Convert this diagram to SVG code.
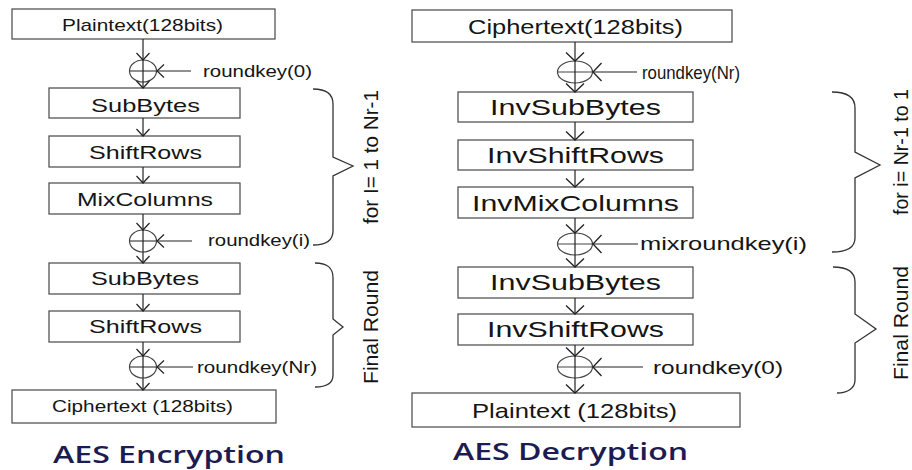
<svg xmlns="http://www.w3.org/2000/svg" width="912" height="470" viewBox="0 0 912 470">
<defs>
<marker id="aL" markerUnits="userSpaceOnUse" markerWidth="20" markerHeight="20" refX="8" refY="8" orient="auto" overflow="visible">
<path d="M1,1.5 L8,8 L1,14.5" fill="none" stroke="#222" stroke-width="1.2"/>
</marker>
<marker id="aR" markerUnits="userSpaceOnUse" markerWidth="24" markerHeight="24" refX="9" refY="10" orient="auto" overflow="visible">
<path d="M0.5,1 L9,10 L0.5,19" fill="none" stroke="#222" stroke-width="1.3"/>
</marker>
<style>
.box{fill:#fff;stroke:#555;stroke-width:1.3}
.xor{fill:none;stroke:#444;stroke-width:1.2}
.ln{fill:none;stroke:#222;stroke-width:1.2}
.br{fill:none;stroke:#333;stroke-width:1.3}
.t{font-family:"Liberation Sans",Arial,sans-serif;fill:#151515}
.title{font-family:"Open Sans","DejaVu Sans",sans-serif;fill:#1c1c52;font-weight:600}
</style>
</defs>
<rect width="912" height="470" fill="#fff"/>

<!-- Encryption -->
<g id="enc-plaintext"><rect class="box" x="12" y="9" width="263" height="30"/><text class="t" x="62" y="31" font-size="17" textLength="161" lengthAdjust="spacingAndGlyphs">Plaintext(128bits)</text></g>
<g id="enc-xor0"><ellipse class="xor" cx="143" cy="71" rx="13.5" ry="11"/><line class="xor" x1="129.5" y1="71" x2="156.5" y2="71"/><text class="t" x="203" y="77" font-size="17" textLength="109" lengthAdjust="spacingAndGlyphs">roundkey(0)</text></g>
<g id="enc-subbytes1"><rect class="box" x="49" y="88" width="191" height="30"/><text class="t" x="91" y="112" font-size="19" textLength="109" lengthAdjust="spacingAndGlyphs">SubBytes</text></g>
<g id="enc-shiftrows1"><rect class="box" x="49" y="136" width="191" height="31"/><text class="t" x="89" y="159" font-size="19" textLength="113" lengthAdjust="spacingAndGlyphs">ShiftRows</text></g>
<g id="enc-mixcolumns"><rect class="box" x="49" y="183" width="191" height="31"/><text class="t" x="77" y="206" font-size="19" textLength="136" lengthAdjust="spacingAndGlyphs">MixColumns</text></g>
<g id="enc-xori"><ellipse class="xor" cx="143" cy="241" rx="13.5" ry="11"/><line class="xor" x1="129.5" y1="241" x2="156.5" y2="241"/><text class="t" x="208" y="246" font-size="17" textLength="102" lengthAdjust="spacingAndGlyphs">roundkey(i)</text></g>
<g id="enc-subbytes2"><rect class="box" x="49" y="263" width="191" height="31"/><text class="t" x="91" y="285" font-size="19" textLength="108" lengthAdjust="spacingAndGlyphs">SubBytes</text></g>
<g id="enc-shiftrows2"><rect class="box" x="49" y="311" width="191" height="31"/><text class="t" x="89" y="333" font-size="19" textLength="113" lengthAdjust="spacingAndGlyphs">ShiftRows</text></g>
<g id="enc-xornr"><ellipse class="xor" cx="143" cy="367" rx="13.5" ry="11"/><line class="xor" x1="129.5" y1="367" x2="156.5" y2="367"/><text class="t" x="197" y="373" font-size="17" textLength="120" lengthAdjust="spacingAndGlyphs">roundkey(Nr)</text></g>
<g id="enc-ciphertext"><rect class="box" x="12" y="390" width="264" height="33"/><text class="t" x="52" y="412" font-size="17" textLength="181" lengthAdjust="spacingAndGlyphs">Ciphertext (128bits)</text></g>
<g id="enc-brace-loop"><path class="br" d="M313,89 C326,89 333,94 333,104 L333,157 L353,166 L333,176 L333,231 C333,240 326,245 313,245"/><text class="t" transform="translate(378,157) rotate(-90)" text-anchor="middle" font-size="20" textLength="134" lengthAdjust="spacingAndGlyphs">for I= 1 to Nr-1</text></g>
<g id="enc-brace-final"><path class="br" d="M315,263 C328,263 333,268 333,278 L333,319 L343,327 L333,335 L333,375 C333,383 327,387 315,387"/><text class="t" transform="translate(378,327) rotate(-90)" text-anchor="middle" font-size="20" textLength="114" lengthAdjust="spacingAndGlyphs">Final Round</text></g>
<g id="enc-title"><text class="title" x="53" y="463" font-size="23" textLength="232" lengthAdjust="spacingAndGlyphs">AES Encryption</text></g>

<!-- Decryption -->
<g id="dec-ciphertext"><rect class="box" x="412" y="10" width="320" height="32"/><text class="t" x="468" y="34" font-size="21" textLength="215" lengthAdjust="spacingAndGlyphs">Ciphertext(128bits)</text></g>
<g id="dec-xornr"><ellipse class="xor" cx="575" cy="72" rx="17.5" ry="11"/><line class="xor" x1="557.5" y1="72" x2="592.5" y2="72"/><text class="t" x="642" y="79" font-size="19" textLength="98" lengthAdjust="spacingAndGlyphs">roundkey(Nr)</text></g>
<g id="dec-invsubbytes1"><rect class="box" x="458" y="92" width="235" height="30"/><text class="t" x="490" y="115" font-size="22" textLength="171" lengthAdjust="spacingAndGlyphs">InvSubBytes</text></g>
<g id="dec-invshiftrows1"><rect class="box" x="458" y="140" width="235" height="30"/><text class="t" x="487" y="163" font-size="22" textLength="177" lengthAdjust="spacingAndGlyphs">InvShiftRows</text></g>
<g id="dec-invmixcolumns"><rect class="box" x="458" y="187" width="235" height="31"/><text class="t" x="472" y="211" font-size="22" textLength="207" lengthAdjust="spacingAndGlyphs">InvMixColumns</text></g>
<g id="dec-xori"><ellipse class="xor" cx="575" cy="244" rx="17.5" ry="11"/><line class="xor" x1="557.5" y1="244" x2="592.5" y2="244"/><text class="t" x="640" y="250" font-size="19" textLength="167" lengthAdjust="spacingAndGlyphs">mixroundkey(i)</text></g>
<g id="dec-invsubbytes2"><rect class="box" x="458" y="267" width="235" height="31"/><text class="t" x="490" y="290" font-size="22" textLength="171" lengthAdjust="spacingAndGlyphs">InvSubBytes</text></g>
<g id="dec-invshiftrows2"><rect class="box" x="458" y="314" width="235" height="31"/><text class="t" x="487" y="337" font-size="22" textLength="177" lengthAdjust="spacingAndGlyphs">InvShiftRows</text></g>
<g id="dec-xor0"><ellipse class="xor" cx="575" cy="367" rx="17.5" ry="11"/><line class="xor" x1="557.5" y1="367" x2="592.5" y2="367"/><text class="t" x="653" y="374" font-size="19" textLength="130" lengthAdjust="spacingAndGlyphs">roundkey(0)</text></g>
<g id="dec-plaintext"><rect class="box" x="412" y="393" width="328" height="34"/><text class="t" x="472" y="418" font-size="21" textLength="205" lengthAdjust="spacingAndGlyphs">Plaintext (128bits)</text></g>
<g id="dec-brace-loop"><path class="br" d="M832,92 C846,92 855,97 855,108 L855,152 L880,165 L855,178 L855,238 C855,247 847,252 832,252"/><text class="t" transform="translate(908,152) rotate(-90)" text-anchor="middle" font-size="20" textLength="126" lengthAdjust="spacingAndGlyphs">for i= Nr-1 to 1</text></g>
<g id="dec-brace-final"><path class="br" d="M833,267 C847,267 855,272 855,282 L855,314 L876,329 L855,343 L855,380 C855,388 848,393 837,393"/><text class="t" transform="translate(908,323) rotate(-90)" text-anchor="middle" font-size="20" textLength="114" lengthAdjust="spacingAndGlyphs">Final Round</text></g>
<g id="dec-title"><text class="title" x="453" y="460" font-size="23" textLength="235" lengthAdjust="spacingAndGlyphs">AES Decryption</text></g>

<!-- Connectors -->
<g id="connectors">
<line class="ln" x1="143" y1="39" x2="143" y2="60" marker-end="url(#aL)"/>
<line class="ln" x1="143" y1="60" x2="143" y2="88" marker-end="url(#aL)"/>
<line class="ln" x1="143" y1="118" x2="143" y2="136" marker-end="url(#aL)"/>
<line class="ln" x1="143" y1="167" x2="143" y2="183" marker-end="url(#aL)"/>
<line class="ln" x1="143" y1="214" x2="143" y2="230" marker-end="url(#aL)"/>
<line class="ln" x1="143" y1="230" x2="143" y2="263" marker-end="url(#aL)"/>
<line class="ln" x1="143" y1="294" x2="143" y2="311" marker-end="url(#aL)"/>
<line class="ln" x1="143" y1="342" x2="143" y2="356" marker-end="url(#aL)"/>
<line class="ln" x1="143" y1="356" x2="143" y2="390" marker-end="url(#aL)"/>
<line class="ln" x1="191" y1="71" x2="157" y2="71" marker-end="url(#aL)"/>
<line class="ln" x1="192" y1="241" x2="157" y2="241" marker-end="url(#aL)"/>
<line class="ln" x1="193" y1="367" x2="157" y2="367" marker-end="url(#aL)"/>

<line class="ln" x1="575" y1="42" x2="575" y2="61" marker-end="url(#aR)"/>
<line class="ln" x1="575" y1="61" x2="575" y2="92" marker-end="url(#aR)"/>
<line class="ln" x1="575" y1="122" x2="575" y2="140" marker-end="url(#aR)"/>
<line class="ln" x1="575" y1="170" x2="575" y2="187" marker-end="url(#aR)"/>
<line class="ln" x1="575" y1="218" x2="575" y2="233" marker-end="url(#aR)"/>
<line class="ln" x1="575" y1="233" x2="575" y2="267" marker-end="url(#aR)"/>
<line class="ln" x1="575" y1="298" x2="575" y2="314" marker-end="url(#aR)"/>
<line class="ln" x1="575" y1="345" x2="575" y2="356" marker-end="url(#aR)"/>
<line class="ln" x1="575" y1="356" x2="575" y2="393" marker-end="url(#aR)"/>
<line class="ln" x1="637" y1="72" x2="593" y2="72" marker-end="url(#aR)"/>
<line class="ln" x1="638" y1="244" x2="593" y2="244" marker-end="url(#aR)"/>
<line class="ln" x1="643" y1="367" x2="593" y2="367" marker-end="url(#aR)"/>
</g>
</svg>
